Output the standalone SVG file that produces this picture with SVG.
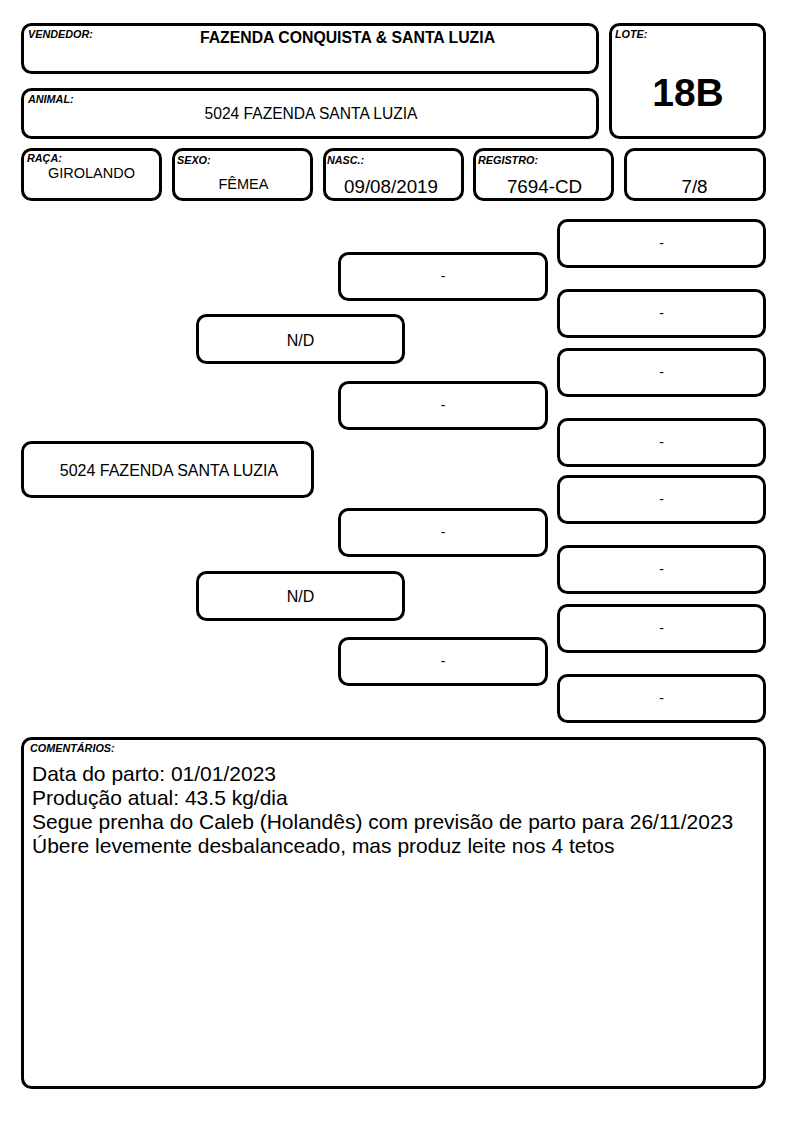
<svg xmlns="http://www.w3.org/2000/svg" width="794" height="1123" viewBox="0 0 794 1123">
<style>
.b{fill:#fff;stroke:#000;stroke-width:3}
.lbl{font-family:"Liberation Sans",Arial,sans-serif;font-size:10.8px;font-weight:bold;font-style:italic;fill:#000}
.t{font-family:"Liberation Sans",Arial,sans-serif;fill:#000;text-anchor:middle}
.d{font-family:"Liberation Sans",Arial,sans-serif;font-size:14px;fill:#000;text-anchor:middle}
.c{font-family:"Liberation Sans",Arial,sans-serif;font-size:21px;fill:#000}
</style>
<rect width="794" height="1123" fill="#fff"/>
<g id="vendedor">
<rect class="b" x="22.5" y="24.5" width="575" height="48" rx="9"/>
<text class="lbl" x="28" y="38">VENDEDOR:</text>
<text class="t" x="347.5" y="43" font-size="15.8" font-weight="bold">FAZENDA CONQUISTA &amp; SANTA LUZIA</text>
</g>
<g id="animal">
<rect class="b" x="22.5" y="89.5" width="575" height="48" rx="9"/>
<text class="lbl" x="28" y="103">ANIMAL:</text>
<text class="t" x="311" y="119" font-size="15.6">5024 FAZENDA SANTA LUZIA</text>
</g>
<g id="lote">
<rect class="b" x="610.5" y="24.5" width="154" height="113" rx="9"/>
<text class="lbl" x="615" y="38">LOTE:</text>
<text class="t" x="688" y="106" font-size="39" font-weight="bold">18B</text>
</g>
<g id="raca">
<rect class="b" x="22.5" y="149.5" width="138" height="50" rx="9"/>
<text class="lbl" x="27" y="162">RAÇA:</text>
<text class="t" x="91.5" y="178" font-size="14.5">GIROLANDO</text>
</g>
<g id="sexo">
<rect class="b" x="173.5" y="149.5" width="138" height="50" rx="9"/>
<text class="lbl" x="177" y="164">SEXO:</text>
<text class="t" x="243.5" y="189" font-size="14.5">FÊMEA</text>
</g>
<g id="nasc">
<rect class="b" x="324.5" y="149.5" width="138" height="50" rx="9"/>
<text class="lbl" x="327" y="164">NASC.:</text>
<text class="t" x="391" y="193" font-size="18.8">09/08/2019</text>
</g>
<g id="registro">
<rect class="b" x="474.5" y="149.5" width="138" height="50" rx="9"/>
<text class="lbl" x="478" y="164">REGISTRO:</text>
<text class="t" x="544.5" y="193" font-size="18.8">7694-CD</text>
</g>
<g id="grau">
<rect class="b" x="625.5" y="149.5" width="139" height="50" rx="9"/>
<text class="t" x="694.5" y="193" font-size="18.8">7/8</text>
</g>
<g id="ped-animal">
<rect class="b" x="22.5" y="442.5" width="290" height="54" rx="9"/>
<text class="t" x="169" y="476" font-size="16">5024 FAZENDA SANTA LUZIA</text>
</g>
<g id="pai">
<rect class="b" x="197.5" y="315.5" width="206" height="47" rx="9"/>
<text class="t" x="300.5" y="346" font-size="16">N/D</text>
</g>
<g id="mae">
<rect class="b" x="197.5" y="572.5" width="206" height="47" rx="9"/>
<text class="t" x="300.5" y="602" font-size="16">N/D</text>
</g>
<g id="avo1"><rect class="b" x="339.5" y="253.5" width="207" height="46" rx="9"/><text class="d" x="443" y="281">-</text></g>
<g id="avo2"><rect class="b" x="339.5" y="382.5" width="207" height="46" rx="9"/><text class="d" x="443" y="410">-</text></g>
<g id="avo3"><rect class="b" x="339.5" y="509.5" width="207" height="46" rx="9"/><text class="d" x="443" y="537">-</text></g>
<g id="avo4"><rect class="b" x="339.5" y="638.5" width="207" height="46" rx="9"/><text class="d" x="443" y="666">-</text></g>
<g id="bis1"><rect class="b" x="558.5" y="220.5" width="206" height="46" rx="9"/><text class="d" x="661.5" y="247.5">-</text></g>
<g id="bis2"><rect class="b" x="558.5" y="290.5" width="206" height="46" rx="9"/><text class="d" x="661.5" y="317.5">-</text></g>
<g id="bis3"><rect class="b" x="558.5" y="349.5" width="206" height="46" rx="9"/><text class="d" x="661.5" y="376.5">-</text></g>
<g id="bis4"><rect class="b" x="558.5" y="419.5" width="206" height="46" rx="9"/><text class="d" x="661.5" y="446.5">-</text></g>
<g id="bis5"><rect class="b" x="558.5" y="476.5" width="206" height="46" rx="9"/><text class="d" x="661.5" y="503.5">-</text></g>
<g id="bis6"><rect class="b" x="558.5" y="546.5" width="206" height="46" rx="9"/><text class="d" x="661.5" y="573.5">-</text></g>
<g id="bis7"><rect class="b" x="558.5" y="605.5" width="206" height="46" rx="9"/><text class="d" x="661.5" y="632.5">-</text></g>
<g id="bis8"><rect class="b" x="558.5" y="675.5" width="206" height="46" rx="9"/><text class="d" x="661.5" y="702.5">-</text></g>
<g id="connectors"></g>
<g id="comentarios">
<rect class="b" x="22.5" y="738.5" width="742" height="349" rx="9"/>
<text class="lbl" x="30" y="752" font-size="10">COMENTÁRIOS:</text>
<text class="c" x="32" y="781">Data do parto: 01/01/2023</text>
<text class="c" x="32" y="805">Produção atual: 43.5 kg/dia</text>
<text class="c" x="32" y="829">Segue prenha do Caleb (Holandês) com previsão de parto para 26/11/2023</text>
<text class="c" x="32" y="853">Úbere levemente desbalanceado, mas produz leite nos 4 tetos</text>
</g>
</svg>
